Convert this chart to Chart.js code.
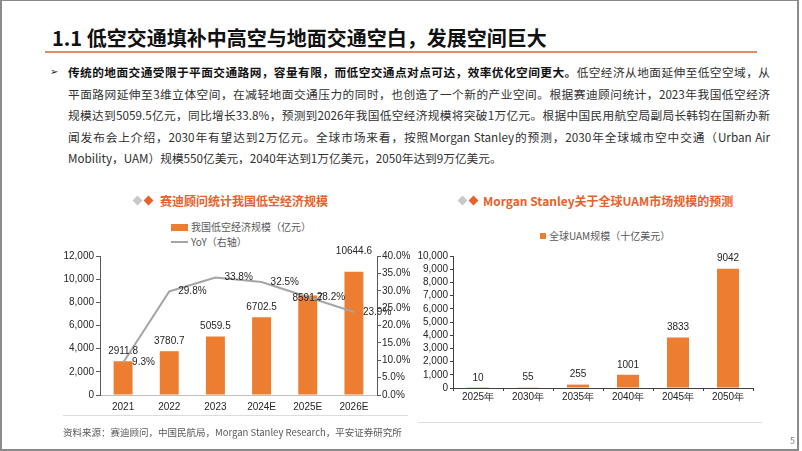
<!DOCTYPE html>
<html>
<head>
<meta charset="utf-8">
<script src="https://cdn.jsdelivr.net/npm/chart.js@4.4.0/dist/chart.umd.min.js"></script>
<style>
body { margin: 0; background: #fff; }
#slide { position: relative; width: 802px; height: 451px; overflow: hidden; background: #fff; font-family: "Noto Sans CJK SC", sans-serif; }
.frame { position: absolute; left: 0; top: 0; width: 799px; height: 451px; box-sizing: border-box; border: 2px solid #8a8a8a; border-top-width: 1px; }
.abs { position: absolute; white-space: nowrap; }
#title { left: 52px; top: 24px; font-size: 20px; font-weight: bold; color: #111; line-height: 28px; }
#rule { left: 45px; top: 51px; width: 712px; height: 2px; background: #e38b62; }
#para { position: absolute; left: 68px; top: 61px; width: 702px; font-size: 11.7px; color: #303030; line-height: 21.6px; }
#para div { text-align: justify; text-align-last: justify; height: 21.6px; }
#para div.last { text-align-last: left; }
#para b { color: #111; }
#arrow { left: 50px; top: 61px; font-size: 10px; line-height: 21.6px; font-family: "DejaVu Sans"; color: #222; }
.ctitle { font-size: 12px; font-weight: bold; color: #e8612c; line-height: 16px; }
.dia { position: absolute; width: 7px; height: 7px; transform: rotate(45deg); }
.leg { font-size: 10px; color: #595959; line-height: 14px; }
canvas { position: absolute; }
.hr { position: absolute; height: 1px; background: #dcdcdc; }
#src { left: 63px; top: 425px; font-size: 9.5px; color: #595959; line-height: 14px; }
#page { left: 790px; top: 434px; font-size: 9px; color: #7f7f7f; line-height: 14px; }
</style>
</head>
<body>
<div id="slide">
  <div class="abs" id="title">1.1 低空交通填补中高空与地面交通空白，发展空间巨大</div>
  <div class="abs" id="rule"></div>
  <div class="abs" id="arrow">➢</div>
  <div id="para">
    <div><b>传统的地面交通受限于平面交通路网，容量有限，而低空交通点对点可达，效率优化空间更大。</b>低空经济从地面延伸至低空空域，从</div>
    <div>平面路网延伸至3维立体空间，在减轻地面交通压力的同时，也创造了一个新的产业空间。根据赛迪顾问统计，2023年我国低空经济</div>
    <div>规模达到5059.5亿元，同比增长33.8%，预测到2026年我国低空经济规模将突破1万亿元。根据中国民用航空局副局长韩钧在国新办新</div>
    <div>闻发布会上介绍，2030年有望达到2万亿元。全球市场来看，按照Morgan Stanley的预测，2030年全球城市空中交通（Urban Air</div>
    <div class="last">Mobility，UAM）规模550亿美元，2040年达到1万亿美元，2050年达到9万亿美元。</div>
  </div>

  <div class="dia" style="left:134px;top:197px;background:#c8c8c8"></div>
  <div class="dia" style="left:145px;top:197px;background:#e8612c"></div>
  <div class="abs ctitle" style="left:160px;top:193px">赛迪顾问统计我国低空经济规模</div>
  <div class="abs" style="left:171px;top:224px;width:17px;height:7px;background:#ed7d31"></div>
  <div class="abs leg" style="left:191px;top:220px">我国低空经济规模（亿元）</div>
  <div class="abs" style="left:171px;top:241px;width:17px;height:2px;background:#a5a5a5"></div>
  <div class="abs leg" style="left:191px;top:235px">YoY（右轴）</div>

  <div class="dia" style="left:459px;top:197px;background:#c8c8c8"></div>
  <div class="dia" style="left:470px;top:197px;background:#e8612c"></div>
  <div class="abs ctitle" style="left:483px;top:193px">Morgan Stanley关于全球UAM市场规模的预测</div>
  <div class="abs" style="left:540px;top:233px;width:6px;height:6px;background:#ed7d31"></div>
  <div class="abs leg" style="left:549px;top:229px">全球UAM规模（十亿美元）</div>

  <canvas id="left" width="372" height="172" style="left:40px;top:246px"></canvas>
  <canvas id="right" width="370" height="168" style="left:395px;top:246px"></canvas>

  <div class="hr" style="left:63px;top:415px;width:345px"></div>
  <div class="hr" style="left:418px;top:422px;width:344px"></div>
  <div class="abs" id="src">资料来源：赛迪顾问，中国民航局，Morgan Stanley Research，平安证券研究所</div>
  <div class="abs" id="page">5</div>
  <div class="frame"></div>
</div>

<script>
// data
const years = ['2021', '2022', '2023', '2024E', '2025E', '2026E']
const scaleValues = [2911.8, 3780.7, 5059.5, 6702.5, 8591.7, 10644.6]
const yoyValues = [9.3, 29.8, 33.8, 32.5, 28.2, 23.9]
const uamYears = ['2025年', '2030年', '2035年', '2040年', '2045年', '2050年']
const uamValues = [10, 55, 255, 1001, 3833, 9042]

// label nudges (the source moved two bar labels by hand)
const barLabelNudge = [0, 0, 0, 0, 13, -10]

Chart.defaults.font.family = '"Liberation Sans", Arial, sans-serif'
Chart.defaults.font.size = 10
Chart.defaults.color = '#262626'

const valueLabels = {
    id: 'valueLabels',
    afterDatasetsDraw(chart, args, opts) {
        const ctx = chart.ctx
        ctx.save()
        ctx.font = '10px "Liberation Sans", Arial, sans-serif'
        ctx.fillStyle = '#262626'
        ctx.textBaseline = 'middle'
        chart.data.datasets.forEach((ds, i) => {
            const meta = chart.getDatasetMeta(i)
            meta.data.forEach((el, j) => {
                const txt = ds.fmt(ds.data[j])
                if (ds.type === 'line') {
                    ctx.textAlign = 'left'
                    ctx.fillText(txt, el.x + 9, el.y)
                } else {
                    const nudge = ds.nudge ? ds.nudge[j] : 0
                    ctx.textAlign = 'center'
                    ctx.fillText(txt, el.x, el.y - 10 + nudge)
                }
            })
        })
        ctx.restore()
    }
}

const axisGrid = { drawOnChartArea: false, tickLength: 4, color: '#595959' }

new Chart(document.querySelector('#left'), {
    data: {
        labels: years,
        datasets: [{
            type: 'line',
            data: yoyValues,
            yAxisID: 'y1',
            borderColor: '#a5a5a5',
            borderWidth: 2,
            pointRadius: 0,
            tension: 0,
            order: 0,
            fmt: v => v.toFixed(1) + '%'
        }, {
            type: 'bar',
            data: scaleValues,
            yAxisID: 'y',
            backgroundColor: '#ed7d31',
            categoryPercentage: 1,
            barPercentage: 0.41,
            order: 1,
            nudge: barLabelNudge,
            fmt: v => v.toFixed(1)
        }]
    },
    options: {
        responsive: false,
        animation: false,
        layout: { padding: { top: 10 } },
        plugins: { legend: { display: false }, tooltip: { enabled: false } },
        scales: {
            x: {
                grid: { display: false, drawTicks: false },
                border: { display: true, color: '#bfbfbf' },
                ticks: { padding: 6 },
                afterFit(s) { s.height = 23 }
            },
            y: {
                position: 'left', min: 0, max: 12000,
                ticks: { stepSize: 2000, padding: 2, autoSkip: false, callback: v => v.toLocaleString('en-US') },
                grid: axisGrid,
                border: { color: '#595959' },
                afterFit(s) { s.width = 60 }
            },
            y1: {
                position: 'right', min: 0, max: 40,
                ticks: { stepSize: 5, padding: 1, autoSkip: false, callback: v => v.toFixed(1) + '%' },
                grid: axisGrid,
                border: { color: '#595959' },
                afterFit(s) { s.width = 35 }
            }
        }
    },
    plugins: [valueLabels]
})

new Chart(document.querySelector('#right'), {
    data: {
        labels: uamYears,
        datasets: [{
            type: 'bar',
            data: uamValues,
            backgroundColor: '#ed7d31',
            categoryPercentage: 1,
            barPercentage: 0.44,
            fmt: v => String(v)
        }]
    },
    options: {
        responsive: false,
        animation: false,
        layout: { padding: { top: 10, right: 12 } },
        plugins: { legend: { display: false }, tooltip: { enabled: false } },
        scales: {
            x: {
                grid: { drawOnChartArea: false, tickLength: 3, color: '#404040', offset: true },
                border: { color: '#404040' },
                ticks: { padding: 0 },
                afterFit(s) { s.height = 26 }
            },
            y: {
                min: 0, max: 10000,
                ticks: { stepSize: 1000, padding: 2, autoSkip: false, callback: v => v.toLocaleString('en-US') },
                grid: { drawOnChartArea: false, tickLength: 3, color: '#404040' },
                border: { color: '#404040' },
                afterFit(s) { s.width = 58 }
            }
        }
    },
    plugins: [valueLabels]
})
</script>
</body>
</html>
